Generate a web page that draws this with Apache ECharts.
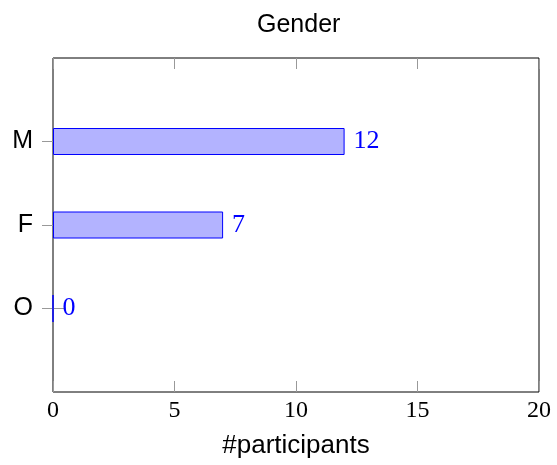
<!DOCTYPE html>
<html>
<head>
<meta charset="utf-8">
<script src="https://cdn.jsdelivr.net/npm/echarts@6/dist/echarts.min.js"></script>
<style>
  html, body { margin: 0; padding: 0; background: #fff; }
  #chart { width: 557px; height: 465px; }
</style>
</head>
<body>
<div id="chart"></div>
<script>
// Gender breakdown of participants
const categories = ['O', 'F', 'M'];
const counts = [0, 7, 12];
const xTicks = [0, 5, 10, 15, 20];

// Pad the category axis with an empty slot at each end so the groups sit
// one step in from the frame.
const yCats = [''].concat(categories, ['']);
const barData = ['-'].concat(counts, ['-']);

const sans = 'Liberation Sans, Arial, sans-serif';
const serif = 'Liberation Serif, Times New Roman, serif';
const tickStyle = { color: '#999', width: 1 };
const catTick = (i, v) => v !== '';

const chart = echarts.init(document.getElementById('chart'), null, { renderer: 'canvas' });
chart.setOption({
  animation: false,
  title: {
    text: 'Gender',
    left: 252,
    top: 8,
    textStyle: { fontFamily: sans, fontSize: 25, fontWeight: 'normal', color: '#000' }
  },
  grid: {
    left: 53, right: 18, top: 58, bottom: 73, containLabel: false,
    show: true, borderColor: '#000', borderWidth: 1, backgroundColor: 'transparent'
  },
  xAxis: [
    {
      type: 'value',
      position: 'bottom',
      min: xTicks[0],
      max: xTicks[xTicks.length - 1],
      interval: 5,
      name: '#participants',
      nameLocation: 'middle',
      nameGap: 41,
      nameTextStyle: { fontFamily: sans, fontSize: 26, color: '#000' },
      axisLine: { show: false },
      axisTick: { show: true, inside: true, length: 11, lineStyle: tickStyle },
      axisLabel: { fontFamily: serif, fontSize: 24, color: '#000', margin: 7 },
      splitLine: { show: false }
    },
    {
      type: 'value',
      position: 'top',
      min: xTicks[0],
      max: xTicks[xTicks.length - 1],
      interval: 5,
      axisLine: { show: false },
      axisTick: { show: true, inside: true, length: 11, lineStyle: tickStyle },
      axisLabel: { show: false },
      splitLine: { show: false }
    }
  ],
  yAxis: [
    {
      type: 'category',
      position: 'left',
      data: yCats,
      boundaryGap: false,
      axisLine: { show: false },
      axisTick: { show: true, inside: false, length: 11, interval: catTick, lineStyle: tickStyle },
      axisLabel: { fontFamily: sans, fontSize: 25, color: '#000', margin: 20, interval: 0 },
      splitLine: { show: false }
    },
    {
      type: 'category',
      position: 'right',
      data: yCats,
      boundaryGap: false,
      axisLine: { show: false },
      axisTick: { show: true, inside: false, length: 11, interval: catTick, lineStyle: tickStyle },
      axisLabel: { show: false },
      splitLine: { show: false }
    }
  ],
  series: [
    {
      type: 'bar',
      xAxisIndex: 0,
      yAxisIndex: 0,
      data: barData,
      barWidth: 27,
      itemStyle: { color: '#b3b3ff', borderColor: '#0000ff', borderWidth: 1 },
      label: {
        show: true,
        position: 'right',
        distance: 9,
        fontFamily: serif,
        fontSize: 26,
        color: '#0000ff'
      }
    }
  ]
});
</script>
</body>
</html>
